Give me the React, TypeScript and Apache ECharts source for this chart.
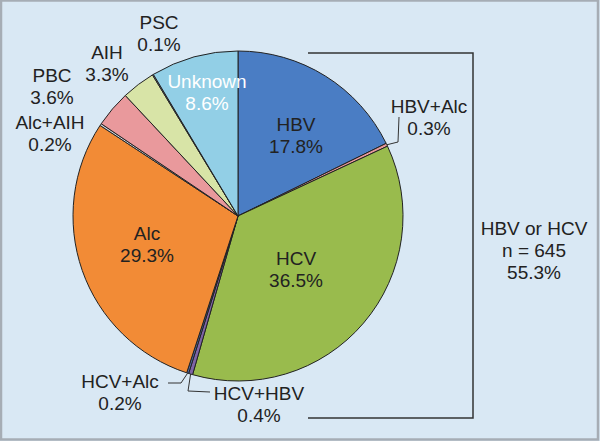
import React, { useEffect, useRef } from 'react';
import * as echarts from 'echarts';

const categories = ['HBV', 'HBV+Alc', 'HCV', 'HCV+HBV', 'HCV+Alc', 'Alc', 'Alc+AIH', 'PBC', 'AIH', 'PSC', 'Unknown'];
const values = [17.8, 0.3, 36.5, 0.4, 0.2, 29.3, 0.2, 3.6, 3.3, 0.1, 8.6];
const groupLines = ['HBV or HCV', 'n = 645', '55.3%'];

const sliceColors = ['#4a7dc4', '#e8999c', '#99bb4d', '#7e64a6', '#4f6aa8', '#f28b36', '#d3dbe3', '#e9999c', '#d8e4a7', '#b8cce4', '#92cfe6'];

const CX = 238;
const CY = 216;
const R = 165;
const FONT = "'Liberation Sans', Arial, Helvetica, sans-serif";

// label anchor offsets (px) relative to the pie centre
const labelAnchor: Record<string, [number, number]> = {
  'HBV': [58, -81],
  'HBV+Alc': [191, -99],
  'HCV': [58, 53],
  'HCV+HBV': [21, 188],
  'HCV+Alc': [-118, 176],
  'Alc': [-91, 28.5],
  'Alc+AIH': [-188, -83],
  'PBC': [-186, -130],
  'AIH': [-131, -152.5],
  'PSC': [-79, -182.5],
  'Unknown': [-31, -124],
};
// leader line bend/end points (px) relative to the pie centre
const leaderBends: Record<string, [number, number][]> = {
  'HBV+Alc': [[160, -74], [161, -99]],
  'HCV+HBV': [[-50, 175], [-28, 176]],
  'HCV+Alc': [[-57, 167], [-70, 167]],
};

export default function App() {
  const ref = useRef<HTMLDivElement>(null);
  useEffect(() => {
    if (!ref.current) return;
    const chart = echarts.init(ref.current, undefined, { renderer: 'svg' });
    const total = values.reduce((a, b) => a + b, 0);
    const midAngles: number[] = [];
    let acc = 0;
    values.forEach((v) => {
      midAngles.push(((acc + v / 2) / total) * Math.PI * 2);
      acc += v;
    });

    const data = categories.map((name, i) => ({
      name,
      value: values[i],
      itemStyle: { color: sliceColors[i] },
      label: name === 'Unknown' ? { color: '#ffffff' } : undefined,
      labelLine: { show: !!leaderBends[name] },
    }));

    chart.setOption({
      animation: false,
      backgroundColor: '#d9e8f4',
      graphic: [
        {
          type: 'rect',
          shape: { x: 1, y: 0.5, width: 597, height: 439 },
          style: { fill: 'none', stroke: '#a6adb5', lineWidth: 2.5 },
          silent: true,
        },
        {
          type: 'polyline',
          shape: { points: [[308, 53], [473, 53], [473, 418], [308, 418]] },
          style: { fill: 'none', stroke: '#333333', lineWidth: 1.5 },
          silent: true,
        },
        {
          type: 'text',
          x: 534,
          y: 250,
          style: {
            text: groupLines.join('\n'),
            fill: '#222222',
            font: `19px ${FONT}`,
            fontSize: 19,
            fontFamily: FONT,
            lineHeight: 22,
            align: 'center',
            verticalAlign: 'middle',
          },
          silent: true,
        },
      ],
      series: [
        {
          type: 'pie',
          center: [CX, CY],
          radius: R,
          startAngle: 90,
          clockwise: true,
          avoidLabelOverlap: false,
          silent: true,
          itemStyle: { borderColor: '#222222', borderWidth: 1 },
          label: {
            show: true,
            position: 'outside',
            color: '#222222',
            fontSize: 19,
            fontFamily: FONT,
            lineHeight: 22,
            align: 'center',
            formatter: (p: any) => `${p.name}\n${Number(p.value).toFixed(1)}%`,
          },
          labelLine: { show: false, lineStyle: { color: '#333333', width: 1 } },
          labelLayout: (params: any) => {
            const name = categories[params.dataIndex];
            const [dx, dy] = labelAnchor[name];
            const res: any = { x: CX + dx, y: CY + dy, align: 'center', verticalAlign: 'middle' };
            const bends = leaderBends[name];
            if (bends) {
              const a = midAngles[params.dataIndex];
              const start = [CX + R * Math.sin(a), CY - R * Math.cos(a)];
              res.labelLinePoints = [start, ...bends.map(([bx, by]) => [CX + bx, CY + by])];
            }
            return res;
          },
          data,
        },
      ],
    });
    return () => chart.dispose();
  }, []);
  return <div ref={ref} style={{ position: 'absolute', left: 0, top: 0, width: 600, height: 441 }} />;
}
